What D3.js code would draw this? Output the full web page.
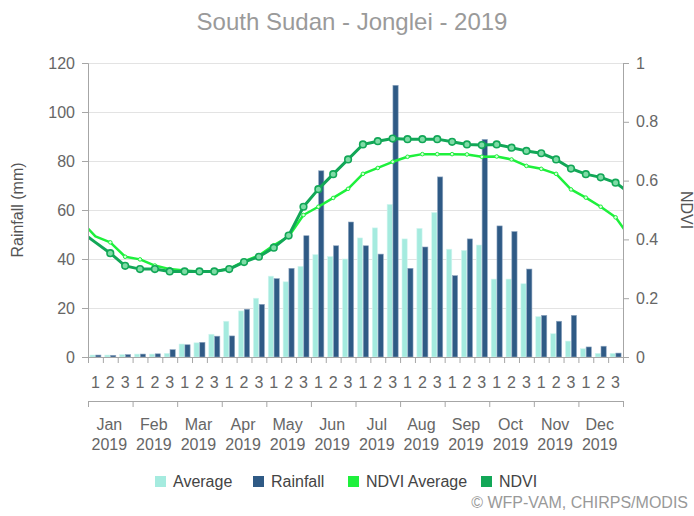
<!DOCTYPE html>
<html lang="en">
<head>
    <meta charset="UTF-8">
    <title>South Sudan - Jonglei - 2019</title>
    <script src="https://cdn.jsdelivr.net/npm/d3@7"></script>
    <style>
        body { margin: 0; background: #fff; }
        svg text { font-family: "Liberation Sans", Arial, sans-serif; }
    </style>
</head>
<body>
<svg id="chart" width="694" height="516"></svg>
<script>
    // dekad categories and tick labels
    var months = ["Jan", "Feb", "Mar", "Apr", "May", "Jun", "Jul", "Aug", "Sep", "Oct", "Nov", "Dec"]
    var year = "2019"
    var dekadLabels = ["1", "2", "3"]
    var rainTicks = [0, 20, 40, 60, 80, 100, 120]
    var ndviTicks = [0, 0.2, 0.4, 0.6, 0.8, 1]

    // rainfall (mm) per dekad
    var rainAverage = [0.8, 0.8, 1, 1.2, 1.2, 1.5, 5.3, 5.8, 9.3, 14.6, 18.8, 24,
        33, 30.7, 37, 41.8, 41, 40, 48.6, 52.7, 62.3, 48.2, 52.5, 59,
        44, 43.5, 45.7, 31.8, 31.8, 29.9, 16.5, 9.5, 6.5, 3.4, 1.5, 1.5]
    var rainfall = [0.8, 0.7, 1, 1.2, 1.3, 3, 5, 6, 8.5, 8.6, 19.5, 21.5,
        32, 36.2, 49.5, 76, 45.4, 55.1, 45.4, 42, 110.9, 36.2, 44.9, 73.5,
        33.2, 48.2, 88.8, 53.5, 51.2, 35.9, 17, 14.6, 17, 4.1, 4.4, 1.6]

    // NDVI per dekad (with the neighbouring dekads that the lines run into at the edges)
    var ndviAverage = [0.41, 0.39, 0.341, 0.332, 0.311, 0.299, 0.294, 0.291, 0.291, 0.3, 0.325, 0.345,
        0.38, 0.41, 0.483, 0.511, 0.541, 0.572, 0.623, 0.643, 0.664, 0.681, 0.69, 0.69,
        0.69, 0.689, 0.681, 0.682, 0.672, 0.65, 0.64, 0.623, 0.57, 0.542, 0.511, 0.475]
    var ndvi = [0.39, 0.353, 0.31, 0.299, 0.299, 0.291, 0.291, 0.291, 0.291, 0.299, 0.323, 0.341,
        0.372, 0.413, 0.511, 0.571, 0.622, 0.672, 0.723, 0.734, 0.743, 0.741, 0.741, 0.741,
        0.732, 0.723, 0.721, 0.723, 0.712, 0.701, 0.693, 0.672, 0.641, 0.622, 0.611, 0.593]
    var ndviAverageEdges = [0.464, 0.405]
    var ndviEdges = [0.428, 0.555]

    var colors = {avg: "#a5ebdf", rain: "#2f5a85", ndviAvg: "#1ef03c", ndvi: "#12a757"}

    var svg = d3.select("#chart")
    var plotLeft = 88, plotRight = 623, plotTop = 63, plotBottom = 357
    var n = rainfall.length

    var x = d3.scaleBand().domain(d3.range(n)).range([plotLeft, plotRight]).padding(0)
    var xs = d3.scaleBand().domain(["avg", "rain"]).range([0, x.bandwidth()])
        .paddingInner(0.1).paddingOuter(0.33)
    var xl = d3.scaleLinear().domain([0, n]).range([plotLeft, plotRight])
    var xm = d3.scaleBand().domain(months).range([plotLeft, plotRight])
    var y = d3.scaleLinear().domain([0, 120]).range([plotBottom, plotTop])
    var y2 = d3.scaleLinear().domain([0, 1]).range([plotBottom, plotTop])

    // title
    svg.append("text")
        .attr("x", 352).attr("y", 30)
        .attr("text-anchor", "middle")
        .attr("font-size", 24)
        .attr("fill", "#9a9a9a")
        .text("South Sudan - Jonglei - " + year)

    // grid
    svg.append("g").selectAll("line").data(rainTicks).join("line")
        .attr("x1", plotLeft).attr("x2", plotRight)
        .attr("y1", d => y(d) + 0.5).attr("y2", d => y(d) + 0.5)
        .attr("stroke", "#e3e3e3").attr("stroke-width", 1)

    // bars
    var groups = svg.append("g").selectAll("g").data(d3.range(n)).join("g")
        .attr("transform", d => "translate(" + x(d) + ",0)")
    groups.append("rect")
        .attr("x", xs("avg")).attr("width", xs.bandwidth())
        .attr("y", d => y(rainAverage[d])).attr("height", d => y(0) - y(rainAverage[d]))
        .attr("fill", colors.avg).attr("stroke", "#d4f6f0").attr("stroke-width", 0.6)
    groups.append("rect")
        .attr("x", xs("rain")).attr("width", xs.bandwidth())
        .attr("y", d => y(rainfall[d])).attr("height", d => y(0) - y(rainfall[d]))
        .attr("fill", colors.rain).attr("stroke", "#8ea6c0").attr("stroke-width", 0.6)

    // NDVI lines, clipped to the plot
    svg.append("clipPath").attr("id", "plot").append("rect")
        .attr("x", plotLeft).attr("y", plotTop - 10)
        .attr("width", plotRight - plotLeft).attr("height", plotBottom - plotTop + 10)

    function withEdges(vals, edges) {
        var pts = vals.map((v, i) => [x(i) + x.bandwidth() / 2, y2(v)])
        pts.unshift([x(0) - x.bandwidth() / 2, y2(edges[0])])
        pts.push([x(n - 1) + x.bandwidth() * 1.5, y2(edges[1])])
        return pts
    }
    var line = d3.line()
    var lines = svg.append("g").attr("clip-path", "url(#plot)")

    lines.append("path")
        .attr("d", line(withEdges(ndviAverage, ndviAverageEdges)))
        .attr("fill", "none").attr("stroke", colors.ndviAvg).attr("stroke-width", 2.5)
        .attr("stroke-linejoin", "round")
    lines.selectAll("circle.avg").data(d3.range(1, n)).join("circle")
        .attr("class", "avg")
        .attr("cx", d => x(d) + x.bandwidth() / 2).attr("cy", d => y2(ndviAverage[d]))
        .attr("r", 1.8).attr("fill", "#d8ffdc").attr("stroke", colors.ndviAvg).attr("stroke-width", 1)

    lines.append("path")
        .attr("d", line(withEdges(ndvi, ndviEdges)))
        .attr("fill", "none").attr("stroke", colors.ndvi).attr("stroke-width", 3)
        .attr("stroke-linejoin", "round")
    lines.selectAll("circle.ndvi").data(d3.range(1, n)).join("circle")
        .attr("class", "ndvi")
        .attr("cx", d => x(d) + x.bandwidth() / 2).attr("cy", d => y2(ndvi[d]))
        .attr("r", 3.3).attr("fill", "#7fdca6").attr("stroke", colors.ndvi).attr("stroke-width", 1.6)

    // left axis
    var yAxis = svg.append("g").attr("transform", "translate(" + plotLeft + ",0)")
        .call(d3.axisLeft(y).tickValues(rainTicks).tickSize(6).tickPadding(7))
    yAxis.selectAll("text").attr("font-size", 16).attr("fill", "#666").style("font-family", null)
    yAxis.selectAll("line, path").attr("stroke", "#a6a6a6")

    // right axis
    var y2Axis = svg.append("g").attr("transform", "translate(" + plotRight + ",0)")
        .call(d3.axisRight(y2).tickValues(ndviTicks).tickSize(6).tickPadding(7)
            .tickFormat(d3.format("~g")))
    y2Axis.selectAll("text").attr("font-size", 16).attr("fill", "#666").style("font-family", null)
    y2Axis.selectAll("line, path").attr("stroke", "#a6a6a6")

    // axis titles
    svg.append("text")
        .attr("transform", "translate(23,210) rotate(-90)")
        .attr("text-anchor", "middle").attr("font-size", 16).attr("fill", "#555")
        .text("Rainfall (mm)")
    svg.append("text")
        .attr("transform", "translate(681,210) rotate(90)")
        .attr("text-anchor", "middle").attr("font-size", 16).attr("fill", "#555")
        .text("NDVI")

    // dekad axis
    var xAxis = svg.append("g").attr("transform", "translate(0," + plotBottom + ")")
        .call(d3.axisBottom(xl).tickValues(d3.range(n + 1)).tickFormat("").tickSize(6).tickSizeOuter(0))
    xAxis.selectAll("line, path").attr("stroke", "#a6a6a6")
    svg.append("g").selectAll("text").data(d3.range(n)).join("text")
        .attr("x", d => x(d) + x.bandwidth() / 2).attr("y", 388)
        .attr("text-anchor", "middle").attr("font-size", 16).attr("fill", "#666")
        .text(d => dekadLabels[d % 3])

    // month axis
    var xm0 = d3.scaleLinear().domain([0, months.length]).range([plotLeft, plotRight])
    var mAxis = svg.append("g").attr("transform", "translate(0,401)")
        .call(d3.axisBottom(xm0).tickValues(d3.range(months.length + 1)).tickFormat("").tickSize(6).tickSizeOuter(0))
    mAxis.selectAll("line, path").attr("stroke", "#a6a6a6")
    var mLabels = svg.append("g").selectAll("text").data(months).join("text")
        .attr("text-anchor", "middle").attr("font-size", 16).attr("fill", "#666")
        .attr("transform", d => "translate(" + (xm(d) + xm.bandwidth() / 2 - 1) + ",0)")
    mLabels.append("tspan").attr("x", 0).attr("y", 430).text(d => d)
    mLabels.append("tspan").attr("x", 0).attr("y", 450).text(year)

    // legend
    var legendItems = [
        {name: "Average", color: colors.avg, x: 155},
        {name: "Rainfall", color: colors.rain, x: 253},
        {name: "NDVI Average", color: colors.ndviAvg, x: 348},
        {name: "NDVI", color: colors.ndvi, x: 481}
    ]
    var legend = svg.append("g").selectAll("g").data(legendItems).join("g")
        .attr("transform", d => "translate(" + d.x + ",476)")
    legend.append("rect").attr("width", 11).attr("height", 11).attr("y", 0).attr("fill", d => d.color)
    legend.append("text").attr("x", 18).attr("y", 11).attr("font-size", 16).attr("fill", "#444")
        .text(d => d.name)

    // credits
    svg.append("text")
        .attr("x", 688).attr("y", 508)
        .attr("text-anchor", "end").attr("font-size", 16).attr("fill", "#999")
        .text("\u00a9 WFP-VAM, CHIRPS/MODIS")
</script>
</body>
</html>
